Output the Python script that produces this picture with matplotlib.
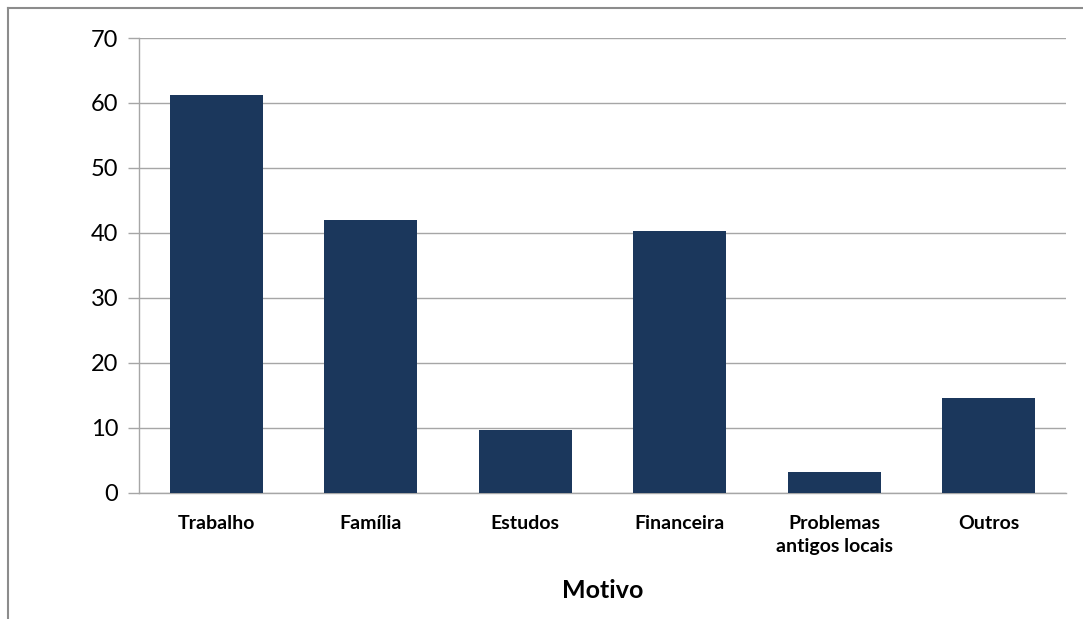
import matplotlib
matplotlib.use('Agg')
import matplotlib.pyplot as plt
from matplotlib.lines import Line2D

# ── Data ──────────────────────────────────────────────────────
categorias = ['Trabalho', 'Família', 'Estudos', 'Financeira',
              'Problemas\nantigos locais', 'Outros']
valores = [61.3, 42.0, 9.7, 40.3, 3.2, 14.6]
y_ticks = [0, 10, 20, 30, 40, 50, 60, 70]

BAR = '#1B375C'
GRID = '#A6A6A6'

plt.rcParams['font.family'] = ['Lato', 'DejaVu Sans']

fig = plt.figure(figsize=(10.83, 6.19), dpi=100)
ax = fig.add_axes([0.1283, 0.2040, 0.8560, 0.7346])

x = range(len(categorias))
ax.bar(x, valores, width=0.6, color=BAR, zorder=3)

ax.set_xlim(-0.5, len(categorias) - 0.5)
ax.set_ylim(0, 70)
ax.set_yticks(y_ticks)
ax.set_xticks(list(x))
ax.set_xticklabels(categorias, fontsize=14, fontweight='bold',
                   linespacing=1.45)
ax.tick_params(axis='x', length=0, pad=16)
ax.tick_params(axis='y', length=8, width=1, color=GRID,
               labelsize=17, pad=7)
ax.grid(True, axis='y', color=GRID, linewidth=1, zorder=0)

for s in ['top', 'right']:
    ax.spines[s].set_visible(False)
for s in ['left', 'bottom']:
    ax.spines[s].set_color(GRID)
    ax.spines[s].set_linewidth(1)

ax.set_xlabel('Motivo', fontsize=18, fontweight='bold', labelpad=17)

# frame lines of the chart area
fig.add_artist(Line2D([8/1083, 1], [1 - 8/619, 1 - 8/619],
                      transform=fig.transFigure, color='#8C8C8C', lw=1.5))
fig.add_artist(Line2D([8/1083, 8/1083], [0, 1 - 8/619],
                      transform=fig.transFigure, color='#8C8C8C', lw=1.5))

fig.savefig('out.png', dpi=100, facecolor='white')
